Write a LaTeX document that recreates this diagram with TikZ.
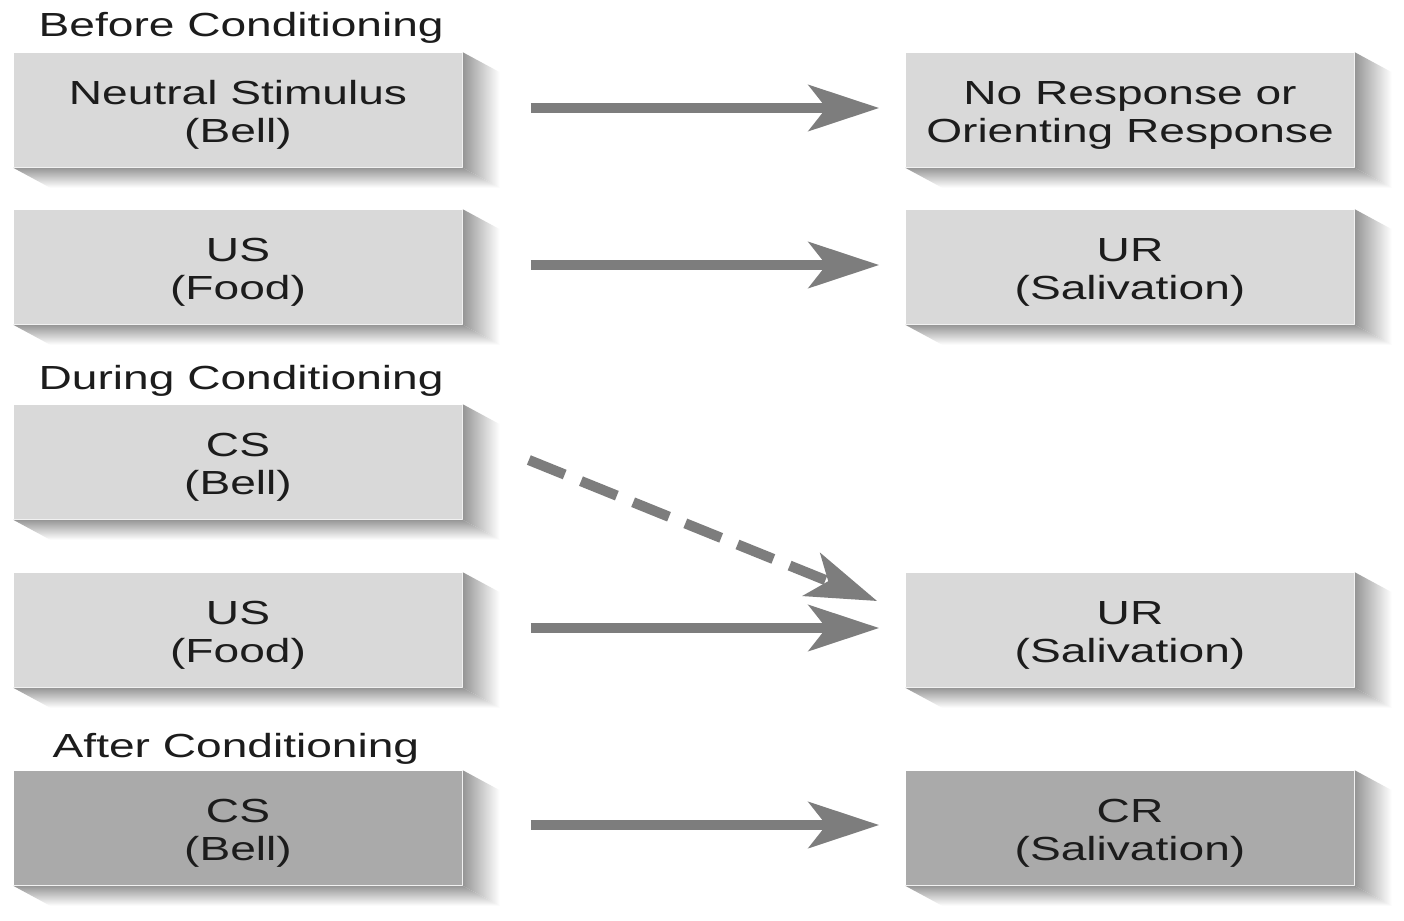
\documentclass[tikz,border=0pt]{standalone}
\usepackage{fontspec}
\newfontfamily\labfont[FakeStretch=1.38]{Liberation Sans}
\usetikzlibrary{arrows.meta,calc}
\definecolor{boxlight}{RGB}{217,217,217}
\definecolor{boxdark}{RGB}{170,170,170}
\definecolor{shadecol}{RGB}{150,150,150}
\definecolor{arrowcol}{RGB}{125,125,125}
\definecolor{txtcol}{RGB}{28,28,28}
\newcommand{\boxlines}[2]{\rule{0pt}{9.6pt}#1\\#2}
\tikzset{
  stagebox/.style={draw=none, fill=boxlight, minimum width=4.48cm, minimum height=1.14cm,
    inner sep=0pt, align=center, text=txtcol, font=\labfont\fontsize{9.5}{10.8}\selectfont},
  darkbox/.style={stagebox, fill=boxdark},
  heading/.style={anchor=west, inner sep=0pt, text=txtcol, font=\labfont\fontsize{9.5}{10.8}\selectfont},
  link/.style={draw=arrowcol, line width=2.9pt, -{Stealth[length=20pt,width=13pt,inset=5pt]}, shorten <=0.68cm, shorten >=0.26cm},
  dashlink/.style={draw=arrowcol, line width=2.9pt, dash pattern=on 11pt off 5pt, -{Stealth[length=20pt,width=13pt,inset=5pt]}}
}
\newcommand{\bevelbox}[1]{%
  \shade[left color=shadecol, right color=white]
    (#1.north east) -- ++(37,20) -- ($(#1.south east)+(37,20)$) -- (#1.south east) -- cycle;
  \shade[top color=shadecol, bottom color=white]
    (#1.south west) -- (#1.south east) -- ($(#1.south east)+(37,20)$) -- ($(#1.south west)+(37,20)$) -- cycle;
}
\begin{document}
\begin{tikzpicture}[x=0.01cm, y=-0.01cm]
\useasboundingbox[fill=white] (0,0) rectangle (1404,920);
% headings
\node[heading] (h1) at (38,28) {Before Conditioning};
\node[heading] (h2) at (38,381) {During Conditioning};
\node[heading] (h3) at (52,749) {After Conditioning};
% boxes
\node[stagebox] (ns) at (238,110) {\boxlines{Neutral Stimulus}{(Bell)}};
\node[stagebox] (nr) at (1130,110) {\boxlines{No Response or}{Orienting Response}};
\node[stagebox] (us1) at (238,267) {\boxlines{US}{(Food)}};
\node[stagebox] (ur1) at (1130,267) {\boxlines{UR}{(Salivation)}};
\node[stagebox] (cs1) at (238,462) {\boxlines{CS}{(Bell)}};
\node[stagebox] (us2) at (238,630) {\boxlines{US}{(Food)}};
\node[stagebox] (ur2) at (1130,630) {\boxlines{UR}{(Salivation)}};
\node[darkbox] (cs2) at (238,828) {\boxlines{CS}{(Bell)}};
\node[darkbox] (cr) at (1130,828) {\boxlines{CR}{(Salivation)}};
% bevels
\bevelbox{ns}\bevelbox{nr}\bevelbox{us1}\bevelbox{ur1}\bevelbox{cs1}
\bevelbox{us2}\bevelbox{ur2}\bevelbox{cs2}\bevelbox{cr}
% arrows
\draw[link] ([yshift=0.02cm]ns.east) -- ([yshift=0.02cm]nr.west);
\draw[link] ([yshift=0.02cm]us1.east) -- ([yshift=0.02cm]ur1.west);
\draw[link] ([yshift=0.02cm]us2.east) -- ([yshift=0.02cm]ur2.west);
\draw[link] ([yshift=0.03cm]cs2.east) -- ([yshift=0.03cm]cr.west);
\coordinate (ds) at ($(cs1.east)+(66,-2)$);
\coordinate (de) at ($(ur2.west)+(-28,-29)$);
\draw[dashlink] (ds) -- (de);
\end{tikzpicture}
\end{document}
